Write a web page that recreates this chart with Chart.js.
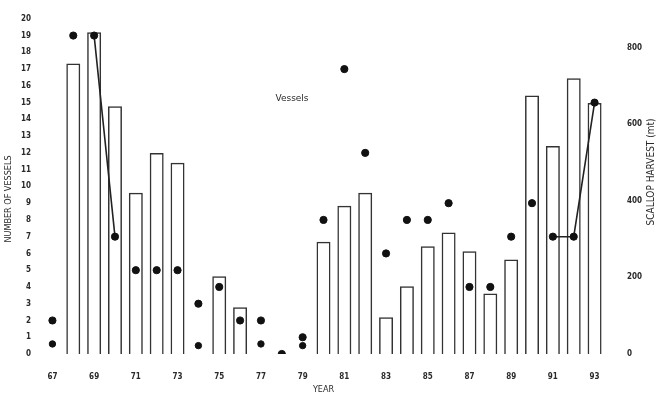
<!DOCTYPE html>
<html>
<head>
<meta charset="utf-8">
<script src="https://cdn.jsdelivr.net/npm/chart.js@4.4.1/dist/chart.umd.min.js"></script>
<style>
    html, body { margin: 0; padding: 0; background: #fff; }
    #wrap { width: 659px; height: 395px; }
</style>
</head>
<body>
<div id="wrap"><canvas id="harvestChart" width="659" height="395"></canvas></div>
<script>
// Scallop fishery: vessels (dots, left axis) and harvest (bars, right axis)

const years = ['67', '68', '69', '70', '71', '72', '73', '74', '75', '76', '77', '78', '79', '80',
    '81', '82', '83', '84', '85', '86', '87', '88', '89', '90', '91', '92', '93'];

const vessels = [2, 19, 19, 7, 5, 5, 5, 3, 4, 2, 2, 0, 1, 8, 17, 12, 6, 8, 8, 9, 4, 4, 7, 9, 7, 7, 15];

// second, low row of dots visible in a few years
const vesselsLow = [0.6, null, null, null, null, null, null, 0.5, null, null, 0.6, null, 0.5, null,
    null, null, null, null, null, null, null, null, null, null, null, null, null];

// hand drawn joins between some dots
const joins = [null, null, 19, 7, null, null, null, null, null, null, null, null, null, null,
    null, null, null, null, null, null, null, null, null, null, 7, 7, 15];

const harvest = [null, 758, 840, 647, 421, 525, 499, null, 203, 122, null, null, null, 293,
    387, 421, 96, 177, 281, 317, 268, 158, 247, 675, 543, 720, 655];

const vesselTicks = { min: 0, max: 20, step: 1 };
const harvestTicks = { min: 0, max: 875, step: 200 };

const ink = '#2a2a2a';
const tickFont = { family: 'DejaVu Sans Condensed', size: 8, weight: 'bold' };

// titles and the "Vessels" note drawn by hand (right title reads bottom to top)
const textPlugin = {
    id: 'extraText',
    afterDraw(chart) {
        const ctx = chart.ctx;
        ctx.save();
        ctx.fillStyle = ink;
        ctx.textAlign = 'center';
        ctx.textBaseline = 'middle';
        ctx.font = '9px "DejaVu Sans Condensed"';

        ctx.save();
        ctx.translate(9, 199);
        ctx.rotate(-Math.PI / 2);
        ctx.fillText('NUMBER OF VESSELS', 0, 0);
        ctx.restore();

        ctx.save();
        ctx.font = '10px "DejaVu Sans Condensed"';
        ctx.translate(651, 172);
        ctx.rotate(-Math.PI / 2);
        ctx.fillText('SCALLOP HARVEST (mt)', 0, 0);
        ctx.restore();

        ctx.font = '9px "DejaVu Sans"';
        ctx.fillText('Vessels', 292, 99);
        ctx.restore();
    }
};

const ctx = document.getElementById('harvestChart').getContext('2d');
new Chart(ctx, {
    type: 'bar',
    data: {
        labels: years,
        datasets: [
            {
                type: 'line',
                label: 'Vessels',
                data: vessels,
                yAxisID: 'y',
                showLine: false,
                pointRadius: 3.6,
                pointBackgroundColor: '#111',
                pointBorderColor: '#111',
                order: 0
            },
            {
                type: 'line',
                label: 'Vessels (low)',
                data: vesselsLow,
                yAxisID: 'y',
                showLine: false,
                pointRadius: 3.2,
                pointBackgroundColor: '#111',
                pointBorderColor: '#111',
                order: 0
            },
            {
                type: 'line',
                label: 'joins',
                data: joins,
                yAxisID: 'y',
                borderColor: '#222',
                borderWidth: 1.6,
                pointRadius: 0,
                spanGaps: false,
                order: 1
            },
            {
                label: 'Harvest (mt)',
                data: harvest,
                yAxisID: 'y1',
                backgroundColor: 'rgba(255,255,255,0)',
                borderColor: '#333',
                borderWidth: 1.5,
                barPercentage: 0.67,
                categoryPercentage: 1,
                order: 2
            }
        ]
    },
    options: {
        responsive: false,
        animation: false,
        layout: { padding: { top: 17, left: 0, right: 0, bottom: 0 } },
        plugins: {
            legend: { display: false },
            tooltip: { enabled: false }
        },
        scales: {
            x: {
                grid: { display: false },
                border: { display: false },
                ticks: {
                    autoSkip: false,
                    maxRotation: 0,
                    color: ink,
                    font: tickFont,
                    padding: 10,
                    callback: function (value, index) {
                        return index % 2 === 0 ? years[index] : '';
                    }
                },
                title: {
                    display: true,
                    text: 'YEAR',
                    color: ink,
                    font: { family: 'DejaVu Sans Condensed', size: 9 },
                    padding: 0
                },
                afterFit: s => { s.height = 41; }
            },
            y: {
                position: 'left',
                min: vesselTicks.min,
                max: vesselTicks.max,
                grid: { display: false },
                border: { display: false },
                ticks: {
                    stepSize: vesselTicks.step,
                    autoSkip: false,
                    color: ink,
                    font: tickFont,
                    padding: 3
                },
                afterFit: s => { s.width = 42; }
            },
            y1: {
                position: 'right',
                min: harvestTicks.min,
                max: harvestTicks.max,
                grid: { display: false },
                border: { display: false },
                ticks: {
                    stepSize: harvestTicks.step,
                    includeBounds: false,
                    color: ink,
                    font: tickFont,
                    padding: 14
                },
                afterFit: s => { s.width = 54; }
            }
        }
    },
    plugins: [textPlugin]
});
</script>
</body>
</html>
